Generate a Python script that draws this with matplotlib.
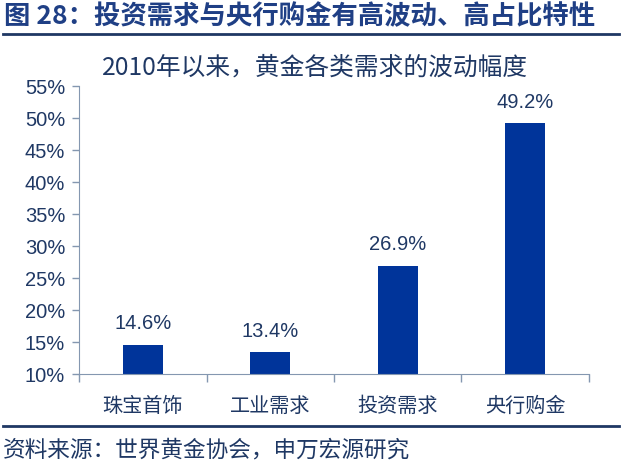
import matplotlib
matplotlib.use('Agg')
import matplotlib.pyplot as plt
from matplotlib.lines import Line2D
from matplotlib.ticker import FuncFormatter

plt.rcParams['font.family'] = ['Noto Sans CJK SC', 'DejaVu Sans']

# 数据
categories = ['珠宝首饰', '工业需求', '投资需求', '央行购金']
values = [14.6, 13.4, 26.9, 49.2]
bar_labels = ['14.6%', '13.4%', '26.9%', '49.2%']
yticks = [10, 15, 20, 25, 30, 35, 40, 45, 50, 55]

bar_color = '#00349A'
text_color = '#1F3864'
title_color = '#1F3F85'
axis_color = '#8497B0'

fig = plt.figure(figsize=(6.25, 4.66), dpi=100)
ax = fig.add_axes([0.1264, 0.1974, 0.816, 0.618])

x = range(len(categories))
ax.bar(x, [v - 10 for v in values], bottom=10, width=0.31, color=bar_color)

for i, v in enumerate(values):
    ax.text(i, v + 1.8, bar_labels[i], ha='center', va='bottom', fontsize=14.5,
            family=['Liberation Sans', 'DejaVu Sans'], color=text_color)

ax.set_xlim(-0.5, len(categories) - 0.5)
ax.set_ylim(10, 55)
ax.set_yticks(yticks)
ax.yaxis.set_major_formatter(FuncFormatter(lambda v, p: f'{v:.0f}%'))
for lab in ax.get_yticklabels():
    lab.set_family(['Liberation Sans', 'DejaVu Sans'])
ax.tick_params(axis='y', labelsize=14.5, colors=axis_color, labelcolor=text_color,
               length=5, width=1, pad=5)

# x轴刻度放在类别之间
ax.set_xticks([i - 0.5 for i in range(len(categories) + 1)])
ax.set_xticklabels([])
ax.set_xticks(list(x), minor=True)
ax.set_xticklabels(categories, minor=True, fontsize=14.5, color=text_color)
ax.tick_params(axis='x', which='major', length=6, width=1, colors=axis_color)
ax.tick_params(axis='x', which='minor', length=0, pad=16)

for s in ['top', 'right']:
    ax.spines[s].set_visible(False)
ax.spines['left'].set_color(axis_color)
ax.spines['bottom'].set_color(axis_color)

# 标题
fig.text(0.006, 0.965, '图 28：投资需求与央行购金有高波动、高占比特性', fontsize=19,
         fontweight='bold', color=title_color, va='center', ha='left')
fig.add_artist(Line2D([0.005, 0.99], [0.926, 0.926], color='#1F3864', lw=2))
fig.text(0.504, 0.855, '2010年以来，黄金各类需求的波动幅度', fontsize=17.8,
         color=text_color, va='center', ha='center')

# 来源
fig.add_artist(Line2D([0.005, 0.99], [0.086, 0.086], color='#1F3864', lw=2))
fig.text(0.005, 0.035, '资料来源：世界黄金协会，申万宏源研究', fontsize=16.3,
         color=text_color, va='center', ha='left')

fig.savefig('out.png', dpi=100)
